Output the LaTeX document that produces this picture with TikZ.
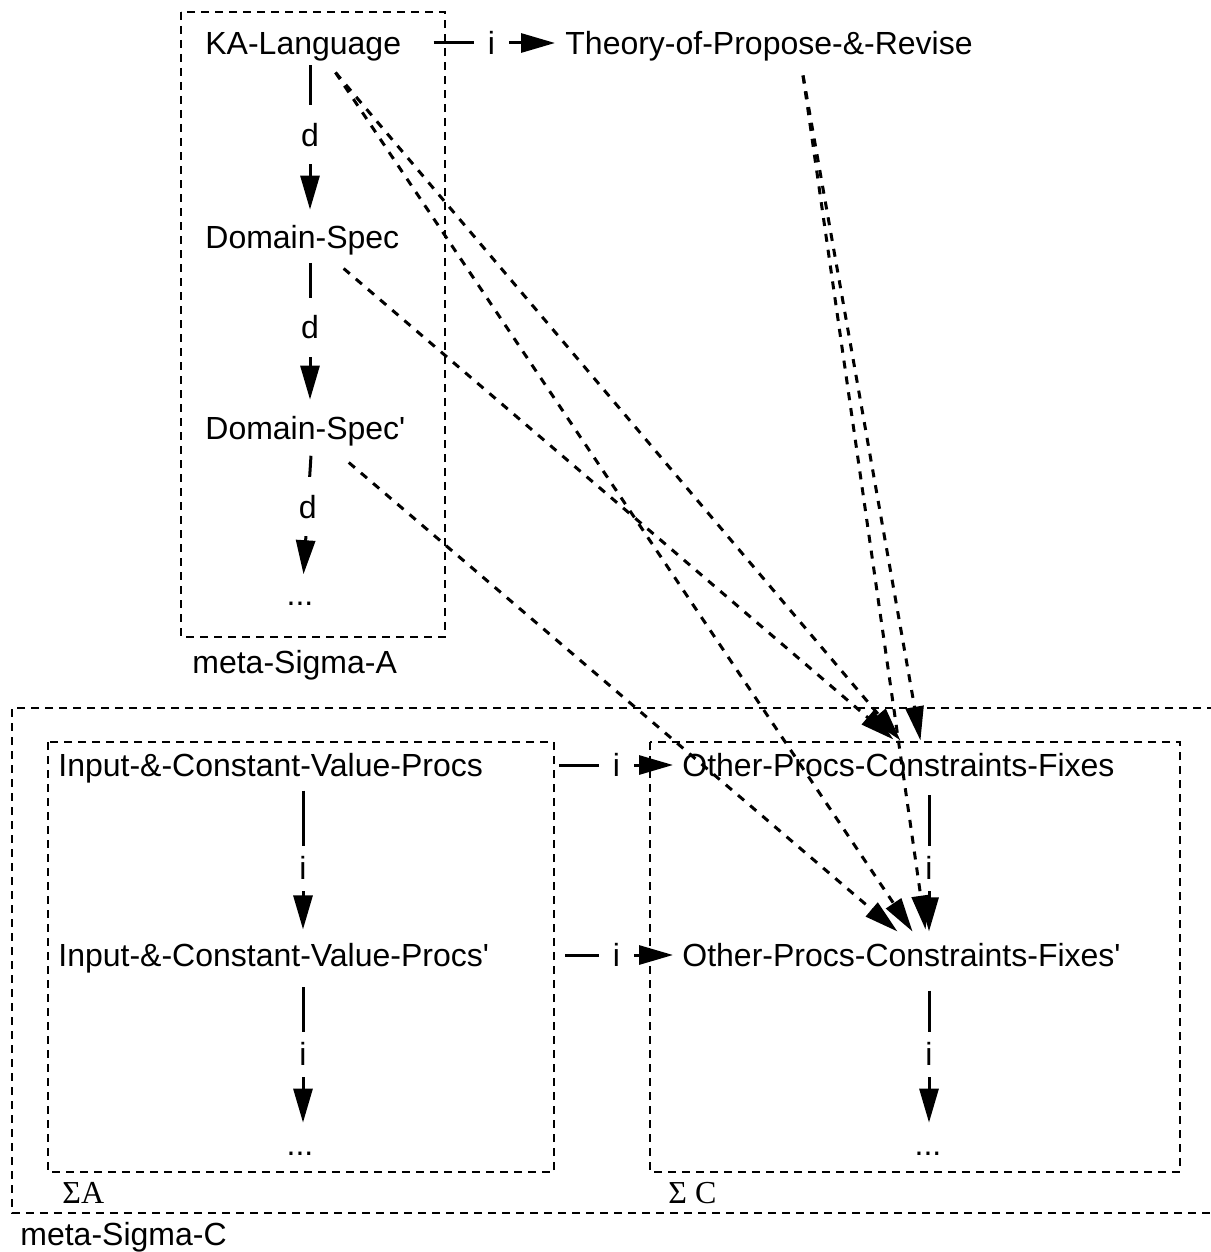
\documentclass[tikz,border=0pt]{standalone}
\usepackage{fontspec}
\setmainfont{Liberation Sans}
\newfontfamily\seriffam{Liberation Serif}
\usetikzlibrary{arrows.meta}

\begin{document}
\begin{tikzpicture}[x=0.5pt,y=-0.5pt,
  every node/.style={font=\fontsize{16}{19}\selectfont},
  txt/.style={anchor=west, inner sep=0pt, text height=11.4pt, text depth=0pt},
  dots/.style={anchor=center, inner sep=0pt, text height=11.4pt, text depth=0pt},
  sig/.style={anchor=base west, inner sep=0pt, font=\fontsize{16}{19}\selectfont\seriffam},
  frame/.style={line width=1.4pt, dash pattern=on 4pt off 3pt},
  conn/.style={line width=1.5pt, -{Triangle[length=17pt,width=9.5pt]}},
  link/.style={line width=1.5pt, dash pattern=on 4pt off 4pt, -{Triangle[length=17pt,width=9pt]}},
  lbl/.style={fill=white, inner xsep=7pt, inner ysep=5.5pt, text height=11.4pt, text depth=0pt},
  lbld/.style={lbl, inner ysep=9pt}
]
\useasboundingbox (0,0) rectangle (1210,1252);

% grouping frames
\draw[frame] (181,12) rectangle (445,637);
\draw[frame] (1215,708) -- (12,708) -- (12,1213) -- (1215,1213);
\draw[frame] (48,742) rectangle (554,1172);
\draw[frame] (650,742) rectangle (1180,1172);

% frame captions
\node[txt] (lmA) at (192,662) {meta-Sigma-A};
\node[txt] (lmC) at (20,1234) {meta-Sigma-C};
\node[sig] (lsA) at (62,1203) {ΣA};
\node[sig] (lsC) at (668,1203) {Σ C};

% theories
\node[txt] (ka)  at (205,43)  {KA-Language};
\node[txt] (th)  at (565,43)  {Theory-of-Propose-\&-Revise};
\node[txt] (ds)  at (205,237) {Domain-Spec};
\node[txt] (ds2) at (205,428) {Domain-Spec\textquotesingle};
\node[dots] (dotsA) at (300,594) {...};

\node[txt] (in1) at (58,765)  {Input-\&-Constant-Value-Procs};
\node[txt] (in2) at (58,955)  {Input-\&-Constant-Value-Procs\textquotesingle};
\node[dots] (dotsB) at (300,1144) {...};

\node[txt] (oc1) at (682,765) {Other-Procs-Constraints-Fixes};
\node[txt] (oc2) at (682,955) {Other-Procs-Constraints-Fixes\textquotesingle};
\node[dots] (dotsC) at (928,1144) {...};

% column positions of the vertical arrows
\coordinate (xa) at (310,0);
\coordinate (xb) at (312,0);
\coordinate (xc) at (303,0);
\coordinate (xd) at (303,0);
\coordinate (xe) at (929,0);

% horizontal arrows
\draw[conn, shorten <=16pt, shorten >=5pt] (ka.east) -- node[lbl, pos=0.55]{i} (th.west);
\draw[conn, shorten <=38pt, shorten >=4.5pt] (in1.east) -- node[lbl, pos=0.67]{i} (oc1.west);
\draw[conn, shorten <=38pt, shorten >=4.5pt] (in2.east) -- node[lbl, pos=0.66]{i} (oc2.west);

% vertical arrows in meta-Sigma-A
\draw[conn, shorten <=5.3pt, shorten >=7.8pt] (ka.south -| xa) -- node[lbld, pos=0.47]{d} (ds.north -| xa);
\draw[conn, shorten <=7pt, shorten >=8.3pt] (ds.south -| xa) -- node[lbld, pos=0.47]{d} (ds2.north -| xa);
\draw[conn, shorten <=8pt, shorten >=4pt] (ds2.south -| xb) -- node[lbld, pos=0.47]{d} (dotsA.north -| xc);

% vertical arrows in Sigma A and Sigma C
\draw[conn, shorten <=6.9pt, shorten >=6.9pt] (in1.south -| xd) -- node[lbl, pos=0.55]{i} (in2.north -| xd);
\draw[conn, shorten <=10.3pt, shorten >=4.8pt] (in2.south -| xd) -- node[lbl, pos=0.53]{i} (dotsB.north -| xd);
\draw[conn, shorten <=9.3pt, shorten >=5.9pt] (oc1.south -| xe) -- node[lbl, pos=0.55]{i} (oc2.north -| xe);
\draw[conn, shorten <=11.9pt, shorten >=4.8pt] (oc2.south -| xe) -- node[lbl, pos=0.53]{i} (dotsC.north -| xe);

% dashed links into Sigma C
\draw[link] ([shift={(-66,17.7)}]ka.south east) -- ([shift={(2,-12.7)}]oc1.north);
\draw[link] ([shift={(-66,17.7)}]ka.south east) -- ([shift={(11,-11.7)}]oc2.north);
\draw[link] ([shift={(-56,19.7)}]ds.south east) -- ([shift={(-5,-13.7)}]oc1.north);
\draw[link] ([shift={(-57,22.7)}]ds2.south east) -- ([shift={(-4,-11.7)}]oc2.north);
\draw[link] ([shift={(34,20.7)}]th.south) -- ([shift={(22,-12.7)}]oc1.north);
\draw[link] ([shift={(34,20.7)}]th.south) -- ([shift={(24,-13.7)}]oc2.north);
\end{tikzpicture}
\end{document}
